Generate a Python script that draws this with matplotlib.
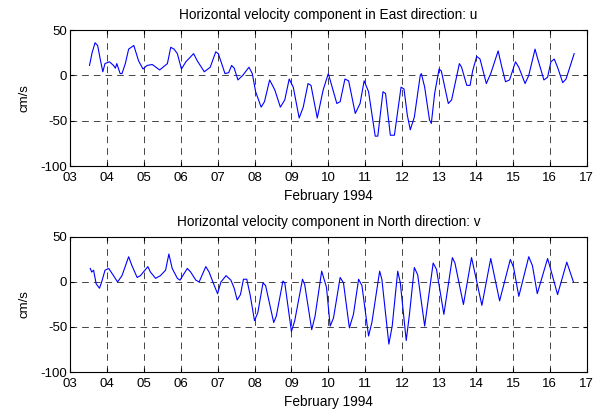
"""
Horizontal velocity components (East u, North v) for February 1994,
drawn in the two-panel MATLAB-like layout.
"""
from matplotlib import pyplot as plt

# days of February 1994 and velocities in cm/s
U_DAYS = [3.53, 3.60, 3.68, 3.75, 3.82, 3.89, 3.95, 4.07, 4.18, 4.23, 4.27, 4.36,
          4.41, 4.50, 4.59, 4.73, 4.86, 4.98, 5.09, 5.23, 5.43, 5.64, 5.73, 5.82,
          5.91, 6.02, 6.14, 6.35, 6.45, 6.64, 6.80, 6.95, 7.02, 7.20, 7.30, 7.38,
          7.45, 7.55, 7.68, 7.85, 7.94, 8.03, 8.18, 8.27, 8.41, 8.55, 8.70, 8.82,
          8.94, 9.05, 9.21, 9.32, 9.45, 9.53, 9.70, 9.86, 10.00, 10.09, 10.23,
          10.32, 10.45, 10.55, 10.73, 10.86, 10.97, 11.09, 11.27, 11.34, 11.48,
          11.55, 11.68, 11.79, 11.97, 12.05, 12.14, 12.22, 12.33, 12.49, 12.52,
          12.61, 12.74, 12.79, 12.88, 13.00, 13.06, 13.25, 13.34, 13.55, 13.61,
          13.75, 13.84, 13.91, 14.02, 14.11, 14.28, 14.40, 14.60, 14.69, 14.80,
          14.91, 15.07, 15.16, 15.33, 15.43, 15.60, 15.66, 15.84, 15.94, 16.03,
          16.12, 16.21, 16.35, 16.44, 16.66]
U_VALS = [11, 25, 36, 33, 18, 4, 13, 15, 11, 8, 13, 2,
          2, 13, 29, 33, 16, 7, 11, 12, 6, 13, 31, 29,
          24, 7, 15, 24, 16, 4, 9, 26, 24, 2, 3, 11,
          8, -5, 0, 9, 2, -18, -35, -29, -5, -16, -35, -27,
          -4, -13, -47, -35, -9, -11, -47, -16, 2, -11, -31,
          -29, -4, -6, -42, -31, -6, -18, -67, -67, -18,
          -20, -66, -66, -13, -15, -44, -60, -46, 0, 2,
          -13, -49, -53, -20, 7, 5, -31, -27, 13, 9,
          -11, -11, 5, 21, 18, -9, 2, 27, 11, -7,
          -5, 15, 9, -9, 0, 29, 20, -5, -2, 15,
          18, 9, -8, -4, 24]

V_DAYS = [3.55, 3.59, 3.64, 3.71, 3.80, 3.86, 3.95, 4.05, 4.18, 4.29, 4.41, 4.59,
          4.68, 4.82, 4.91, 5.11, 5.18, 5.32, 5.45, 5.59, 5.68, 5.77, 5.91, 5.98,
          6.18, 6.27, 6.41, 6.50, 6.68, 6.77, 6.91, 7.00, 7.09, 7.23, 7.36, 7.45,
          7.53, 7.62, 7.70, 7.79, 7.88, 8.00, 8.09, 8.23, 8.30, 8.52, 8.59, 8.77,
          8.82, 9.00, 9.09, 9.30, 9.36, 9.55, 9.64, 9.82, 9.95, 10.05, 10.14,
          10.32, 10.41, 10.57, 10.68, 10.82, 10.91, 11.09, 11.18, 11.39, 11.45,
          11.64, 11.73, 11.88, 11.95, 12.11, 12.20, 12.33, 12.42, 12.61, 12.84,
          12.93, 13.13, 13.36, 13.43, 13.66, 13.88, 14.16, 14.40, 14.64, 14.93,
          15.02, 15.16, 15.43, 15.53, 15.66, 15.94, 16.01, 16.21, 16.46, 16.64]
V_VALS = [15, 11, 13, -2, -7, 0, 13, 15, 7, 0, 7, 28,
          18, 5, 7, 17, 11, 4, 7, 13, 31, 15, 4, 2,
          15, 11, 2, 0, 17, 11, -4, -13, 0, 7, 2, -7,
          -20, -14, 3, 3, -14, -43, -34, -1, -4, -45, -38, 1,
          -1, -55, -43, 3, -3, -53, -38, 12, -6, -49, -40,
          5, -1, -51, -36, 3, -4, -60, -45, 12, 3,
          -69, -49, 12, -1, -65, -35, 16, 8, -49, 21,
          14, -36, 27, 21, -25, 27, -26, 26, -21, 25,
          16, -16, 28, 18, -13, 26, 16, -14, 22, 0]

X_TICKS = list(range(3, 18))
X_LABELS = ["%02d" % d for d in X_TICKS]
Y_TICKS = [-100, -50, 0, 50]

TITLES = ["Horizontal velocity component in East direction: u",
          "Horizontal velocity component in North direction: v"]


def draw_panel(ax, days, vals, title):
    """One MATLAB-looking panel."""
    ax.plot(days, vals, color="#0000ff", linewidth=0.8)
    ax.set_xlim(3, 17)
    ax.set_ylim(-100, 50)
    ax.set_xticks(X_TICKS)
    ax.set_xticklabels(X_LABELS)
    ax.set_yticks(Y_TICKS)
    ax.grid(True, color="0.15", linestyle=(0, (8, 6)), linewidth=0.6)
    ax.tick_params(direction="in", top=True, right=True, length=3,
                   labelsize=9.5, pad=2)
    ax.tick_params(axis="x", pad=4)
    for spine in ax.spines.values():
        spine.set_linewidth(0.8)
    ax.set_title(title, fontsize=9.8, pad=8)
    ax.set_xlabel("February 1994", fontsize=9.8, labelpad=4)
    ax.set_ylabel("cm/s", fontsize=9.5, labelpad=7)


if __name__ == "__main__":
    plt.rcParams["font.family"] = ["Liberation Sans", "DejaVu Sans"]
    plt.rcParams["axes.unicode_minus"] = False
    fig = plt.figure(figsize=(6.03, 4.12), dpi=100)
    ax1 = fig.add_axes([0.116, 0.597, 0.857, 0.330])
    ax2 = fig.add_axes([0.116, 0.097, 0.857, 0.328])
    draw_panel(ax1, U_DAYS, U_VALS, TITLES[0])
    draw_panel(ax2, V_DAYS, V_VALS, TITLES[1])
    fig.savefig("out.png", dpi=100)
